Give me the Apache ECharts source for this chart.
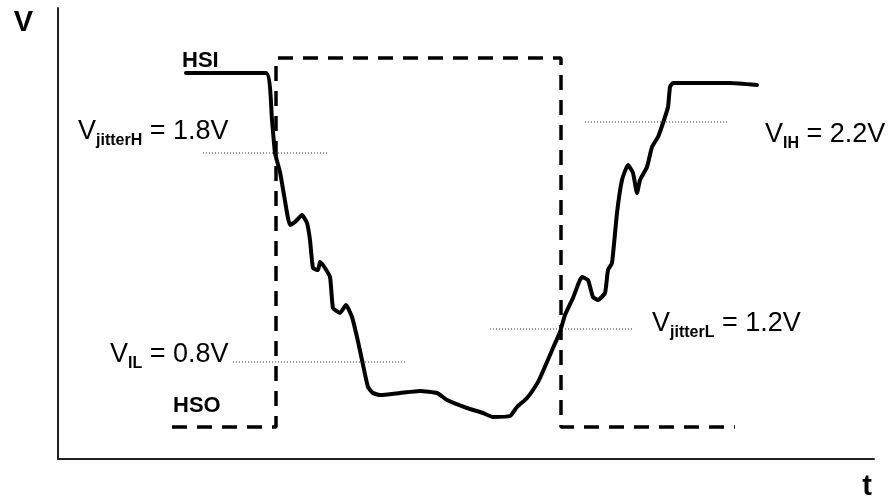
<!DOCTYPE html>
<html>
<head>
<meta charset="utf-8">
<script src="https://cdn.jsdelivr.net/npm/echarts@6/dist/echarts.min.js"></script>
<style>
  html, body { margin: 0; padding: 0; background: #fff; }
  #chart { width: 891px; height: 503px; }
</style>
</head>
<body>
<div id="chart"></div>
<script>
  // time axis / level axis, arbitrary units
  var hsiT = [128, 208, 214, 217, 222, 226, 232, 237, 244, 249, 252, 255, 260, 262, 265, 272, 275, 282, 288, 294,
    299, 304, 310, 315, 322, 342, 362, 379, 389, 409, 425, 435, 452, 459, 469, 477, 482, 489, 495, 502,
    507, 515, 524, 530, 535, 540, 547, 550, 554, 559, 564, 570, 575, 579, 582, 589, 594, 600, 605, 610,
    612, 615, 642, 672, 699];
  var hsiV = [386, 386, 339, 306, 287, 264, 234, 237, 244, 236, 219, 191, 189, 197, 194, 182, 151, 146, 154, 142,
    122, 99, 72, 66, 64, 66, 68, 66, 59, 51, 46, 42, 43, 52, 61, 72, 81, 97, 111, 127,
    144, 161, 182, 179, 162, 159, 166, 189, 196, 246, 279, 294, 286, 266, 279, 292, 312, 322, 336, 352,
    372, 376, 376, 376, 374];

  var hsoT = [114, 218, 218, 503, 503, 677];
  var hsoV = [32, 32, 401, 401, 32, 32];

  // threshold lines: level, start, end
  var thrNames = ['jitterH', 'IL', 'jitterL', 'IH'];
  var thrLevel = [306, 97, 130, 337];
  var thrStart = [145, 175, 432, 527];
  var thrEnd = [269, 349, 575, 670];
  var thrText = ['1.8V', '0.8V', '1.2V', '2.2V'];
  // label anchors (left edge, middle)
  var thrLabelT = [20, 52, 594, 707];
  var thrLabelV = [327, 104, 135, 324];

  var sigNames = ['HSI', 'HSO'];
  var sigLabelT = [124, 115];
  var sigLabelV = [398, 53];

  var font = 'Liberation Sans, Arial, sans-serif';

  function pairs(xs, ys) {
    var out = [];
    for (var i = 0; i < xs.length; i++) out.push([xs[i], ys[i]]);
    return out;
  }

  var series = [];
  series.push({
    type: 'line', data: pairs(hsiT, hsiV), symbol: 'none', smooth: 0.15,
    lineStyle: { color: '#000', width: 4, join: 'round', cap: 'round' }
  });
  series.push({
    type: 'line', data: pairs(hsoT, hsoV), symbol: 'none',
    lineStyle: { color: '#000', width: 3.5, type: [15, 10] }
  });
  for (var i = 0; i < thrNames.length; i++) {
    series.push({
      type: 'line', symbol: 'none',
      data: [[thrStart[i], thrLevel[i]], [thrEnd[i], thrLevel[i]]],
      lineStyle: { color: '#333', width: 1, type: [1, 2] }
    });
  }
  // text labels for thresholds
  var thrLabels = [];
  for (var i = 0; i < thrNames.length; i++) {
    thrLabels.push({
      value: [thrLabelT[i], thrLabelV[i]],
      label: { formatter: '{v|V}{s|' + thrNames[i] + '}{v| = ' + thrText[i] + '}' }
    });
  }
  series.push({
    type: 'scatter', symbolSize: 0, data: thrLabels, silent: true,
    itemStyle: { opacity: 1 },
    label: {
      show: true, position: 'right', distance: 0,
      rich: {
        v: { fontFamily: font, fontSize: 27, color: '#000', lineHeight: 33, verticalAlign: 'middle' },
        s: { fontFamily: font, fontSize: 16, fontWeight: 'bold', color: '#000', lineHeight: 16, verticalAlign: 'bottom' }
      }
    }
  });
  var sigLabels = [];
  for (var i = 0; i < sigNames.length; i++) {
    sigLabels.push({ value: [sigLabelT[i], sigLabelV[i]], label: { formatter: sigNames[i] } });
  }
  series.push({
    type: 'scatter', symbolSize: 0, data: sigLabels, silent: true,
    itemStyle: { opacity: 1 },
    label: { show: true, position: 'right', distance: 0, fontFamily: font, fontSize: 22, fontWeight: 'bold', color: '#000' }
  });

  var chart = echarts.init(document.getElementById('chart'));
  chart.setOption({
    animation: false,
    backgroundColor: '#fff',
    grid: { left: 58, right: 17, top: 8, bottom: 44 },
    xAxis: {
      type: 'value', min: 0, max: 816,
      name: 't', nameLocation: 'end', nameGap: 0,
      nameTextStyle: { fontFamily: font, fontSize: 29, fontWeight: 'bold', color: '#000', align: 'right', verticalAlign: 'top', padding: [13, 2, 0, 0] },
      axisLine: { lineStyle: { color: '#222', width: 2 } },
      axisTick: { show: false }, axisLabel: { show: false }, splitLine: { show: false }
    },
    yAxis: {
      type: 'value', min: 0, max: 451,
      name: 'V', nameLocation: 'end', nameGap: 0,
      nameTextStyle: { fontFamily: font, fontSize: 29, fontWeight: 'bold', color: '#000', align: 'right', verticalAlign: 'top', padding: [0, 25, 0, 0] },
      axisLine: { lineStyle: { color: '#222', width: 2 } },
      axisTick: { show: false }, axisLabel: { show: false }, splitLine: { show: false }
    },
    series: series
  });
</script>
</body>
</html>
